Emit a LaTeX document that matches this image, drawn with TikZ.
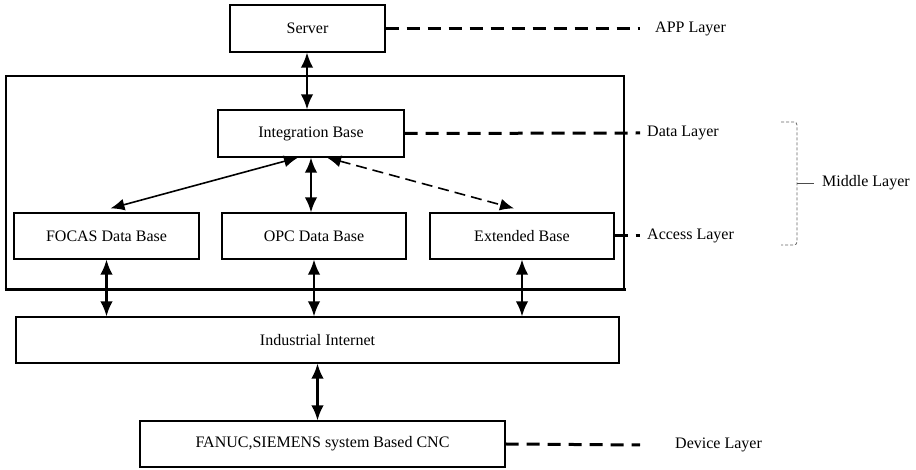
\documentclass[tikz,border=0pt]{standalone}
\usepackage{fontspec}
\setmainfont{Liberation Serif}
\usepackage{tikz}
\usetikzlibrary{arrows.meta,positioning,calc,shadows}

\begin{document}
\begin{tikzpicture}[x=1pt,y=1pt]
  \path[use as bounding box,fill=white] (0,0) rectangle (916,470);

  \tikzset{
    layerBox/.style={
      draw=black,
      fill=white,
      line width=1.2pt,
      drop shadow={shadow xshift=1pt,shadow yshift=-1.2pt,fill=black,opacity=1},
      inner sep=0pt,
      align=center,
      font=\fontsize{16}{19}\selectfont
    },
    layerLabel/.style={
      anchor=west,
      inner sep=0pt,
      font=\fontsize{16}{19}\selectfont
    },
    linkBoth/.style={
      {Latex[length=15pt,width=12.5pt]}-{Latex[length=15pt,width=12.5pt]},
      line width=2.2pt
    },
    linkThin/.style={
      {Latex[length=14pt,width=12pt]}-{Latex[length=14pt,width=12pt]},
      line width=1.6pt
    },
    layerDash/.style={
      line width=3pt,
      dash pattern=on 13pt off 8pt
    }
  }

  % middle frame
  \draw[line width=1.2pt] (6,180) -- (6,394) -- (624,394) -- (624,180);
  \draw[line width=3pt] (4.5,180) -- (625.5,180);

  % boxes
  \node[layerBox,minimum width=155pt,minimum height=47pt] (server)   at (307.5,441.5) {Server};
  \node[layerBox,minimum width=186pt,minimum height=47pt] (integ)    at (311,336.5)   {Integration Base};
  \node[layerBox,minimum width=185pt,minimum height=46pt] (focas)    at (106.5,234)   {FOCAS Data Base};
  \node[layerBox,minimum width=184pt,minimum height=46pt] (opc)      at (314,234)     {OPC Data Base};
  \node[layerBox,minimum width=184pt,minimum height=46pt] (extended) at (522,234)     {Extended Base};
  \node[layerBox,minimum width=603pt,minimum height=46pt] (inet)     at (317.5,130)   {Industrial Internet};
  \node[layerBox,minimum width=365pt,minimum height=46pt] (fanuc)    at (322.5,26)    {FANUC,SIEMENS system Based CNC};

  % layer labels
  \node[layerLabel] (app)    at (655,441.5) {APP Layer};
  \node[layerLabel] (data)   at (647,337)   {Data Layer};
  \node[layerLabel] (access) at (647,234)   {Access Layer};
  \node[layerLabel] (device) at (675,25)    {Device Layer};
  \node[layerLabel] (middle) at (822,287)   {Middle Layer};

  % connectors
  \draw[linkBoth] ([xshift=-0.5pt]server.south) -- ([xshift=-0.5pt]server.south |- integ.north);
  \draw[linkThin] ([xshift=-13pt]integ.south) -- ([xshift=4pt,yshift=4pt]focas.north);
  \draw[linkBoth] (integ.south) -- (integ.south |- opc.north);
  \draw[linkThin,dash pattern=on 11pt off 6pt] ([xshift=16pt]integ.south) -- ([xshift=-8pt,yshift=4pt]extended.north);
  \draw[linkBoth] (focas.south) -- (focas.south |- inet.north);
  \draw[linkBoth] (opc.south) -- (opc.south |- inet.north);
  \draw[linkBoth] (extended.south) -- (extended.south |- inet.north);
  \draw[linkBoth] (inet.south) -- (inet.south |- fanuc.north);

  % layer leaders
  \draw[layerDash] (server.east) -- ([xshift=-15pt]app.west);
  \draw[layerDash] (integ.east) -- ([xshift=-7pt]data.west);
  \draw[layerDash] (extended.east) -- ([xshift=-7pt]access.west);
  \draw[layerDash] (fanuc.east) -- ([xshift=-35pt]device.west);

  % middle bracket
  \draw[black!60,line width=.8pt,densely dashed,rounded corners=3pt]
    (781,348) -- (797,348) -- (797,225) -- (781,225);
  \draw[black!70,line width=.9pt] (797,287) -- ([xshift=-8pt]middle.west);
\end{tikzpicture}
\end{document}
